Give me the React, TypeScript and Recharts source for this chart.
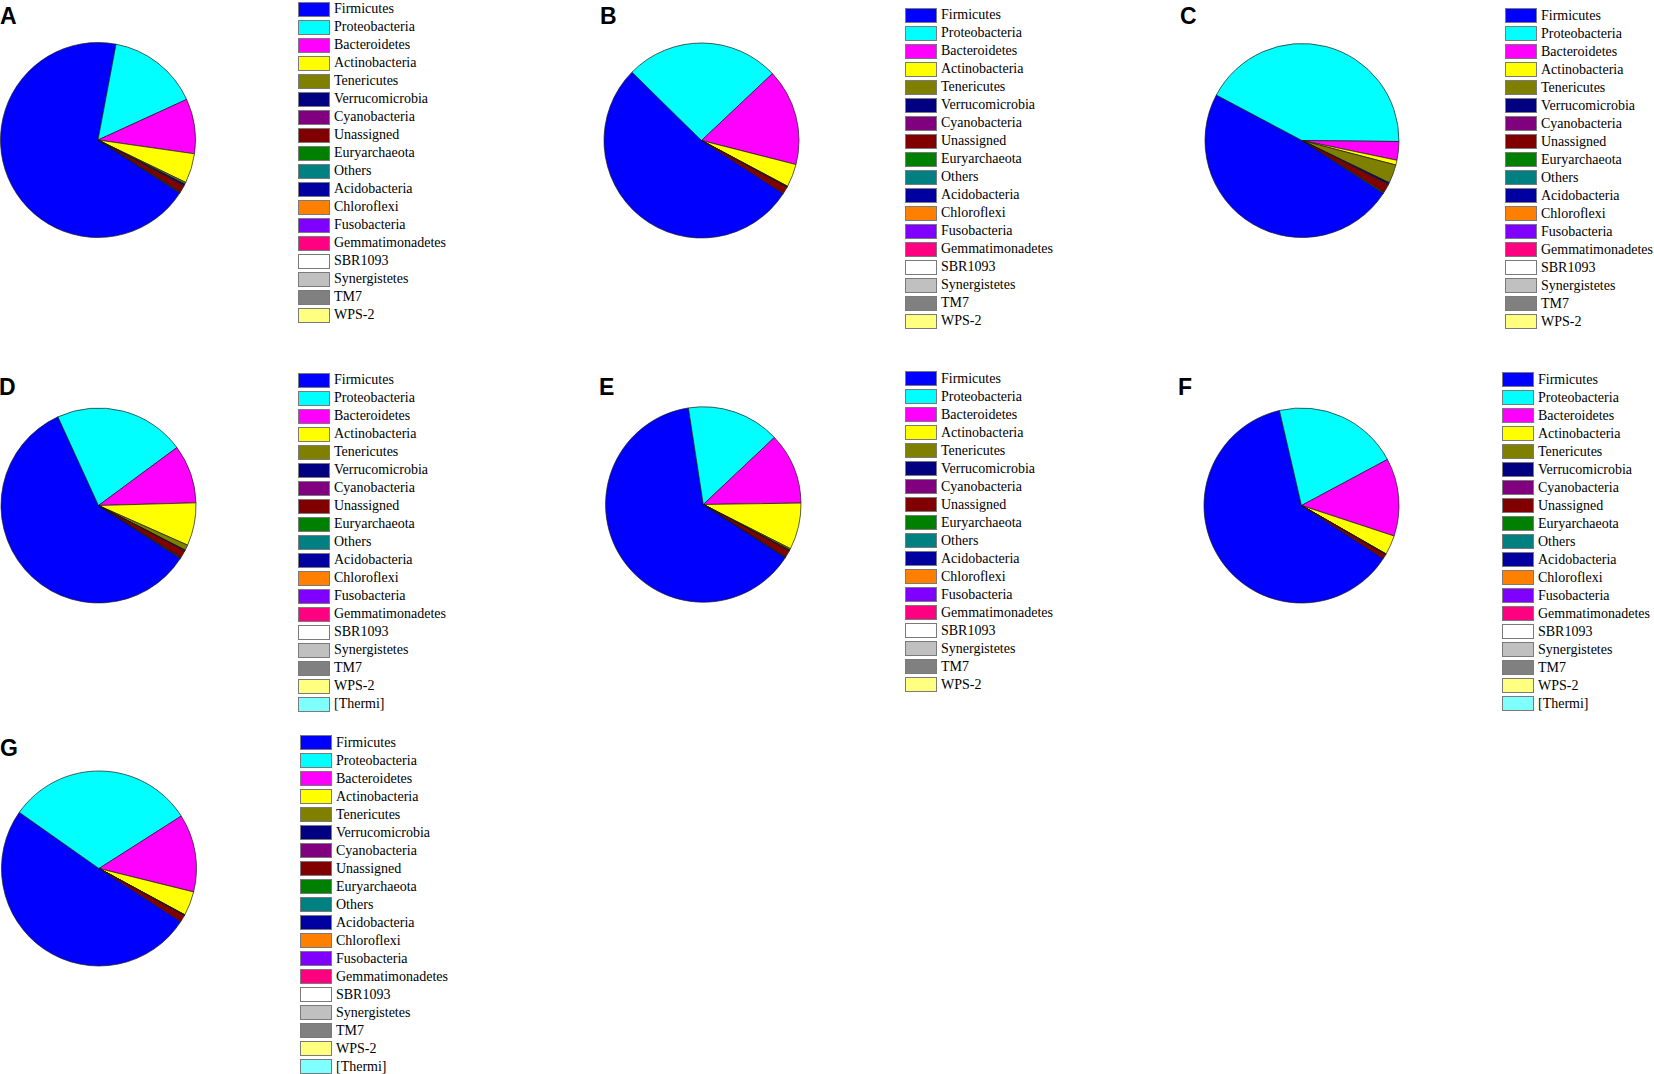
import React from "react";
import { PieChart, Pie, Cell } from "recharts";

const NAMES = [
  "Firmicutes", "Proteobacteria", "Bacteroidetes", "Actinobacteria", "Tenericutes",
  "Verrucomicrobia", "Cyanobacteria", "Unassigned", "Euryarchaeota", "Others",
  "Acidobacteria", "Chloroflexi", "Fusobacteria", "Gemmatimonadetes", "SBR1093",
  "Synergistetes", "TM7", "WPS-2", "[Thermi]",
];

const COLORS = [
  "#0000FF", "#00FFFF", "#FF00FF", "#FFFF00", "#808000",
  "#000080", "#800080", "#800000", "#008000", "#008080",
  "#0000A0", "#FF8000", "#8000FF", "#FF0080", "#FFFFFF",
  "#C0C0C0", "#808080", "#FFFF80", "#80FFFF",
];

// relative abundance (%) per phylum, in NAMES order
const VALUES_A = [68.8, 15.2, 9.1, 4.9, 0.3, 0.25, 0.1, 1.2, 0.05, 0.1, 0, 0, 0, 0, 0, 0, 0, 0, 0];
const VALUES_B = [53.2, 25.6, 16.0, 3.8, 0.1, 0.05, 0.05, 1.2, 0, 0, 0, 0, 0, 0, 0, 0, 0, 0, 0];
const VALUES_C = [48.6, 42.4, 3.1, 0.8, 3.1, 0.3, 0.05, 1.5, 0.15, 0, 0, 0, 0, 0, 0, 0, 0, 0, 0];
const VALUES_D = [59.0, 21.7, 9.7, 7.1, 0.9, 0.1, 0.05, 1.3, 0.05, 0.1, 0, 0, 0, 0, 0, 0, 0, 0, 0];
const VALUES_E = [63.4, 15.4, 11.8, 7.7, 0.25, 0.1, 0.05, 1.2, 0.05, 0.05, 0, 0, 0, 0, 0, 0, 0, 0, 0];
const VALUES_F = [62.2, 20.8, 12.9, 3.2, 0.05, 0.05, 0.05, 0.75, 0, 0, 0, 0, 0, 0, 0, 0, 0, 0, 0];
const VALUES_G = [50.6, 31.2, 12.9, 4.0, 0.05, 0.05, 0.05, 1.15, 0, 0, 0, 0, 0, 0, 0, 0, 0, 0, 0];

const PANEL_LABELS = ["A", "B", "C", "D", "E", "F", "G"];
const LEGEND_COUNTS = [18, 18, 18, 19, 18, 19, 19];
const PANEL_VALUES = [VALUES_A, VALUES_B, VALUES_C, VALUES_D, VALUES_E, VALUES_F, VALUES_G];

// layout (pixels)
const LAYOUT = [
  { lx: 0, lb: 24, cx: 98, cy: 140, r: 97.5, gx: 298, gy: 9 },
  { lx: 600, lb: 24, cx: 701.5, cy: 140.5, r: 97.5, gx: 905, gy: 15 },
  { lx: 1180, lb: 24, cx: 1302, cy: 140.5, r: 97, gx: 1505, gy: 15.5 },
  { lx: -1, lb: 395, cx: 98.5, cy: 505.5, r: 97.5, gx: 298, gy: 380 },
  { lx: 599, lb: 395, cx: 703.3, cy: 504.5, r: 97.7, gx: 905, gy: 378.5 },
  { lx: 1178, lb: 395, cx: 1301.5, cy: 505.5, r: 97.5, gx: 1502, gy: 379.7 },
  { lx: 0, lb: 756, cx: 99, cy: 868.5, r: 97.5, gx: 300, gy: 742.7 },
];

const W = 1654;
const H = 1074;
const ROW = 18;

function pieData(values: number[]) {
  return NAMES.map((name, i) => ({ name, value: values[i], color: COLORS[i] })).filter(
    (d) => d.value > 0
  );
}

function Legend({ x, y, count }: { x: number; y: number; count: number }) {
  return (
    <>
      {NAMES.slice(0, count).map((name, i) => {
        const c = y + i * ROW;
        return (
          <React.Fragment key={name}>
            <div
              style={{
                position: "absolute",
                left: x,
                top: c - 7.5,
                width: 32,
                height: 15,
                boxSizing: "border-box",
                border: "1px solid #7a7a7a",
                background: COLORS[i],
              }}
            />
            <div
              style={{
                position: "absolute",
                left: x + 36,
                top: c - 9,
                height: 18,
                lineHeight: "18px",
                fontFamily: "'Liberation Serif', 'Times New Roman', serif",
                fontSize: 14,
                color: "#000",
                whiteSpace: "nowrap",
              }}
            >
              {name}
            </div>
          </React.Fragment>
        );
      })}
    </>
  );
}

export default function App() {
  return (
    <div
      style={{
        position: "absolute",
        left: 0,
        top: 0,
        width: W,
        height: H,
        background: "#fff",
        overflow: "hidden",
      }}
    >
      <div style={{ position: "absolute", left: 0, top: 0 }}>
        <PieChart width={W} height={H} margin={{ top: 0, right: 0, bottom: 0, left: 0 }}>
          {PANEL_VALUES.map((vals, p) => {
            const L = LAYOUT[p];
            const data = pieData(vals);
            return (
              <Pie
                key={PANEL_LABELS[p]}
                data={data}
                dataKey="value"
                nameKey="name"
                cx={L.cx}
                cy={L.cy}
                outerRadius={L.r}
                innerRadius={0}
                startAngle={-33}
                endAngle={-393}
                stroke="#1a1a1a"
                strokeWidth={0.7}
                isAnimationActive={false}
                label={false}
                labelLine={false}
              >
                {data.map((d) => (
                  <Cell key={d.name} fill={d.color} />
                ))}
              </Pie>
            );
          })}
        </PieChart>
      </div>
      {PANEL_LABELS.map((lab, p) => {
        const L = LAYOUT[p];
        return (
          <div
            key={lab}
            style={{
              position: "absolute",
              left: L.lx,
              top: L.lb - 19.5,
              fontFamily: "'Liberation Sans', Arial, sans-serif",
              fontWeight: "bold",
              fontSize: 23,
              lineHeight: "23px",
              color: "#000",
            }}
          >
            {lab}
          </div>
        );
      })}
      {LAYOUT.map((L, p) => (
        <Legend key={p} x={L.gx} y={L.gy} count={LEGEND_COUNTS[p]} />
      ))}
    </div>
  );
}
